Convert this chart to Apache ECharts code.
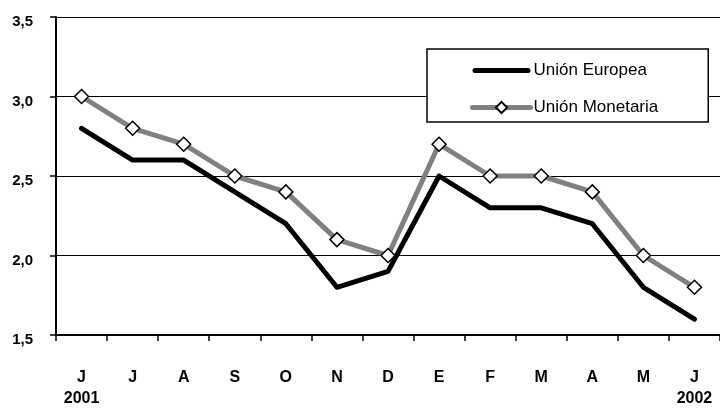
<!DOCTYPE html>
<html>
<head>
<meta charset="utf-8">
<script src="https://cdn.jsdelivr.net/npm/echarts@6/dist/echarts.min.js"></script>
<style>html,body{margin:0;padding:0;background:#fff;}#c{width:720px;height:409px;}</style>
</head>
<body>
<div id="c"></div>
<script>
var months = ['J','J','A','S','O','N','D','E','F','M','A','M','J'];
var years = ['2001','','','','','','','','','','','','2002'];
var unionEuropea = [2.8, 2.6, 2.6, 2.4, 2.2, 1.8, 1.9, 2.5, 2.3, 2.3, 2.2, 1.8, 1.6];
var unionMonetaria = [3.0, 2.8, 2.7, 2.5, 2.4, 2.1, 2.0, 2.7, 2.5, 2.5, 2.4, 2.0, 1.8];
var yTicks = ['1,5','2,0','2,5','3,0','3,5'];
var seriesNames = ['Unión Europea','Unión Monetaria'];

var FONT = '"Liberation Sans", Arial, sans-serif';
var chart = echarts.init(document.getElementById('c'));
chart.setOption({
  animation: false,
  backgroundColor: '#fff',
  textStyle: {fontFamily: FONT},
  grid: {left: 56, top: 17, width: 667, height: 320, containLabel: false},
  legend: {
    orient: 'vertical',
    left: 427, top: 49,
    padding: [13, 50, 6, 43],
    itemGap: 20,
    itemWidth: 58,
    itemHeight: 14,
    backgroundColor: '#fff',
    borderColor: '#000',
    borderWidth: 1.5,
    borderRadius: 0,
    lineStyle: {width: 5, cap: 'round'},
    textStyle: {fontFamily: FONT, fontSize: 17, color: '#000', padding: [0,0,0,-2]},
    data: [
      {name: seriesNames[0], icon: 'path://M2.5,0L55.5,0A2.5,2.5,0,0,1,55.5,5L2.5,5A2.5,2.5,0,0,1,2.5,0Z'},
      {name: seriesNames[1]}
    ]
  },
  xAxis: {
    type: 'category',
    data: months,
    boundaryGap: true,
    axisLine: {lineStyle: {color: '#000', width: 2}},
    axisTick: {show: true, length: 6, lineStyle: {color: '#000', width: 1.5}},
    axisLabel: {
      margin: 32,
      fontFamily: FONT,
      fontWeight: 'bold',
      fontSize: 16,
      color: '#000',
      lineHeight: 21,
      formatter: function (v, i) { return years[i] ? v + '\n' + years[i] : v; }
    }
  },
  yAxis: {
    type: 'value',
    min: 1.5, max: 3.5, interval: 0.5,
    axisLine: {show: true, lineStyle: {color: '#000', width: 2}},
    axisTick: {show: true, length: 6, lineStyle: {color: '#000', width: 1.5}},
    splitLine: {show: true, lineStyle: {color: '#000', width: 1}},
    axisLabel: {
      margin: 23,
      fontFamily: FONT,
      fontWeight: 'bold',
      fontSize: 15,
      color: '#000',
      verticalAlign: 'top',
      lineHeight: 10,
      formatter: function (v) {
        var idx = Math.round((v - 1.5) / 0.5);
        return yTicks[idx];
      }
    }
  },
  series: [
    {
      name: seriesNames[0],
      type: 'line',
      data: unionEuropea,
      symbol: 'none',
      color: '#000',
      lineStyle: {color: '#000', width: 5, cap: 'round', join: 'round'},
      z: 3
    },
    {
      name: seriesNames[1],
      type: 'line',
      data: unionMonetaria,
      symbol: 'diamond',
      symbolSize: [14, 14],
      color: '#808080',
      itemStyle: {color: '#fff', borderColor: '#000', borderWidth: 1.5},
      lineStyle: {color: '#808080', width: 5, cap: 'round', join: 'round'},
      z: 4
    }
  ]
});
</script>
</body>
</html>
